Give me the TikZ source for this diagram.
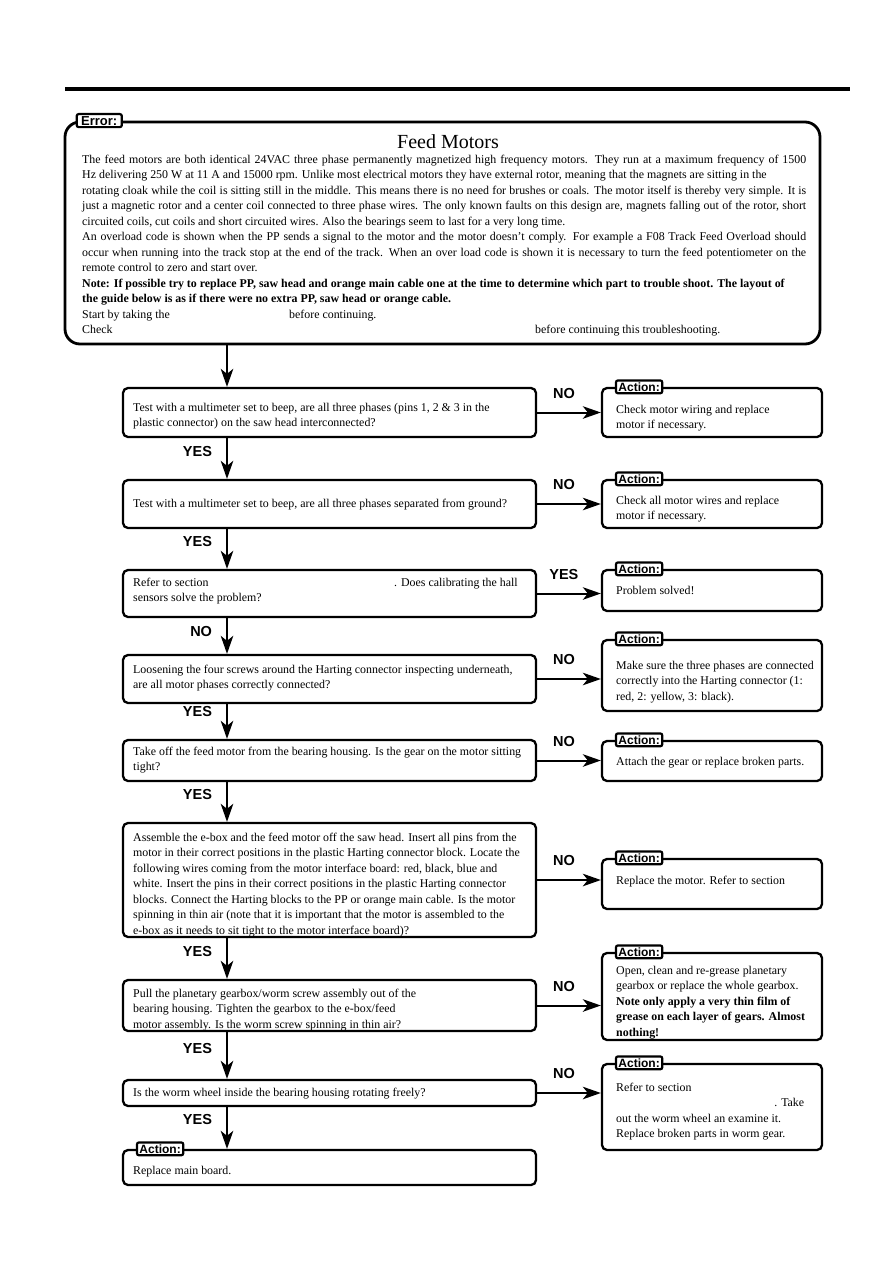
\documentclass[tikz,border=0pt]{standalone}
\usepackage{fontspec}
\setmainfont{Liberation Serif}
\setsansfont{Liberation Sans}
\usetikzlibrary{arrows.meta,calc}
\tikzset{
  qbox/.style={draw, line width=2.3pt, rounded corners=5pt, inner sep=0pt},
  txt/.style={inner sep=0pt, align=left, anchor=base west, font=\fontsize{11.9}{15.5}\selectfont},
  tagbox/.style={draw, fill=white, line width=2.2pt, rounded corners=2pt, inner xsep=2.5pt, inner ysep=2pt, anchor=west, font=\sffamily\bfseries\fontsize{12}{12}\selectfont},
  lab/.style={inner sep=0pt, font=\sffamily\bfseries\fontsize{14.5}{15}\selectfont},
  arr/.style={line width=2pt, -{Stealth[length=18pt,width=12.5pt,inset=5pt]}}
}
\begin{document}
\begin{tikzpicture}[x=1pt,y=-1pt]
\useasboundingbox (0,0) rectangle (893,1263);
\draw[line width=3.5pt] (65,89) -- (850,89);
\coordinate (ax) at (227,0);

% error box
\node[qbox, line width=2.8pt, rounded corners=15pt, minimum width=755pt, minimum height=222pt] (err) at (442.5,233) {};
\node[tagbox, inner xsep=4.5pt, font=\sffamily\bfseries\fontsize{13}{13}\selectfont] (errtag) at ([xshift=12pt]err.north west) {Error:};
\node[inner sep=0pt, anchor=base, font=\fontsize{20}{22}\selectfont] (title) at (448,148) {Feed Motors};
\node[txt] (intro) at (82,333.5) {%
\makebox[724pt][s]{The feed motors are both identical 24VAC three phase permanently magnetized high frequency motors. They run at a maximum frequency of 1500}\\
Hz delivering 250 W at 11 A and 15000 rpm. Unlike most electrical motors they have external rotor, meaning that the magnets are sitting in the\\
\makebox[724pt][s]{rotating cloak while the coil is sitting still in the middle. This means there is no need for brushes or coals. The motor itself is thereby very simple. It is}\\
\makebox[724pt][s]{just a magnetic rotor and a center coil connected to three phase wires. The only known faults on this design are, magnets falling out of the rotor, short}\\
circuited coils, cut coils and short circuited wires. Also the bearings seem to last for a very long time.\\
\makebox[724pt][s]{An overload code is shown when the PP sends a signal to the motor and the motor doesn't comply. For example a F08 Track Feed Overload should}\\
\makebox[724pt][s]{occur when running into the track stop at the end of the track. When an over load code is shown it is necessary to turn the feed potentiometer on the}\\
remote control to zero and start over.\\
\textbf{Note: If possible try to replace PP, saw head and orange main cable one at the time to determine which part to trouble shoot. The layout of}\\
\textbf{the guide below is as if there were no extra PP, saw head or orange cable.}\\
\makebox[207pt][l]{Start by taking the}before continuing.\\
\makebox[453pt][l]{Check}before continuing this troubleshooting.};

% question boxes
\node[qbox, minimum width=413pt, minimum height=49pt] (q1) at (329.5,412.5) {};
\node[qbox, minimum width=413pt, minimum height=48pt] (q2) at (329.5,504) {};
\node[qbox, minimum width=413pt, minimum height=47pt] (q3) at (329.5,593.5) {};
\node[qbox, minimum width=413pt, minimum height=48pt] (q4) at (329.5,679) {};
\node[qbox, minimum width=413pt, minimum height=41pt] (q5) at (329.5,760.5) {};
\node[qbox, minimum width=413pt, minimum height=114pt] (q6) at (329.5,880) {};
\node[qbox, minimum width=413pt, minimum height=51pt] (q7) at (329.5,1005.5) {};
\node[qbox, minimum width=413pt, minimum height=26pt] (q8) at (329.5,1093) {};
\node[qbox, minimum width=413pt, minimum height=35pt] (q9) at (329.5,1167.5) {};

\node[txt] (q1t) at (133,426.5) {Test with a multimeter set to beep, are all three phases (pins 1, 2 \& 3 in the\\plastic connector) on the saw head interconnected?};
\node[txt] (q2t) at (133,507) {Test with a multimeter set to beep, are all three phases separated from ground?};
\node[txt] (q3t) at (133,601.5) {\makebox[261pt][l]{Refer to section}. Does calibrating the hall\\sensors solve the problem?};
\node[txt] (q4t) at (133,688.5) {Loosening the four screws around the Harting connector inspecting underneath,\\are all motor phases correctly connected?};
\node[txt] (q5t) at (133,770.5) {Take off the feed motor from the bearing housing. Is the gear on the motor sitting\\tight?};
\node[txt] (q6t) at (133,934) {Assemble the e-box and the feed motor off the saw head. Insert all pins from the\\motor in their correct positions in the plastic Harting connector block. Locate the\\following wires coming from the motor interface board: red, black, blue and\\white. Insert the pins in their correct positions in the plastic Harting connector\\blocks. Connect the Harting blocks to the PP or orange main cable. Is the motor\\spinning in thin air (note that it is important that the motor is assembled to the\\e-box as it needs to sit tight to the motor interface board)?};
\node[txt] (q7t) at (133,1028) {Pull the planetary gearbox/worm screw assembly out of the\\bearing housing. Tighten the gearbox to the e-box/feed\\motor assembly. Is the worm screw spinning in thin air?};
\node[txt] (q8t) at (133,1096) {Is the worm wheel inside the bearing housing rotating freely?};
\node[tagbox] (q9tag) at ([xshift=14pt]q9.north west) {Action:};
\node[txt] (q9t) at (133,1174) {Replace main board.};

% action boxes
\node[qbox, minimum width=220pt, minimum height=49pt] (r1) at (712,412.5) {};
\node[qbox, minimum width=220pt, minimum height=48pt] (r2) at (712,504) {};
\node[qbox, minimum width=220pt, minimum height=41pt] (r3) at (712,590.5) {};
\node[qbox, minimum width=220pt, minimum height=71pt] (r4) at (712,675.5) {};
\node[qbox, minimum width=220pt, minimum height=40pt] (r5) at (712,761) {};
\node[qbox, minimum width=220pt, minimum height=50pt] (r6) at (712,884) {};
\node[qbox, minimum width=220pt, minimum height=87pt] (r7) at (712,996.5) {};
\node[qbox, minimum width=220pt, minimum height=86pt] (r8) at (712,1107) {};

\foreach \r in {r1,r2,r3,r4,r5,r6,r7,r8}{
  \node[tagbox] (\r tag) at ([xshift=14pt]\r.north west) {Action:};
}

\node[txt] (r1t) at (616,428.5) {Check motor wiring and replace\\motor if necessary.};
\node[txt] (r2t) at (616,519.5) {Check all motor wires and replace\\motor if necessary.};
\node[txt] (r3t) at (616,594) {Problem solved!};
\node[txt] (r4t) at (616,700) {Make sure the three phases are connected\\correctly into the Harting connector (1:\\red, 2: yellow, 3: black).};
\node[txt] (r5t) at (616,765) {Attach the gear or replace broken parts.};
\node[txt] (r6t) at (616,884) {Replace the motor. Refer to section};
\node[txt] (r7t) at (616,1036) {Open, clean and re-grease planetary\\gearbox or replace the whole gearbox.\\\textbf{Note only apply a very thin film of}\\\textbf{grease on each layer of gears. Almost}\\\textbf{nothing!}};
\node[txt] (r8t) at (616,1137.5) {Refer to section\\\makebox[188pt][r]{. Take}\\out the worm wheel an examine it.\\Replace broken parts in worm gear.};

% vertical arrows
\draw[arr] (err.south -| ax) -- (q1.north -| ax);
\draw[arr] (q1.south -| ax) -- node[lab, pos=0.32, left=14pt] (v1) {YES} (q2.north -| ax);
\draw[arr] (q2.south -| ax) -- node[lab, pos=0.32, left=14pt] (v2) {YES} (q3.north -| ax);
\draw[arr] (q3.south -| ax) -- node[lab, pos=0.36, left=14pt] (v3) {NO} (q4.north -| ax);
\draw[arr] (q4.south -| ax) -- node[lab, pos=0.2, left=14pt] (v4) {YES} (q5.north -| ax);
\draw[arr] (q5.south -| ax) -- node[lab, pos=0.3, left=14pt] (v5) {YES} (q6.north -| ax);
\draw[arr] (q6.south -| ax) -- node[lab, pos=0.32, left=14pt] (v6) {YES} (q7.north -| ax);
\draw[arr] (q7.south -| ax) -- node[lab, pos=0.36, left=14pt] (v7) {YES} (q8.north -| ax);
\draw[arr] (q8.south -| ax) -- node[lab, pos=0.3, left=14pt] (v8) {YES} (q9.north -| ax);

% horizontal arrows
\foreach \i/\l in {1/NO,2/NO,3/YES,4/NO,5/NO,6/NO,7/NO,8/NO}{
  \draw[arr] (q\i.east) -- node[lab, pos=0.42, above=13pt] (h\i) {\l} (q\i.east -| r\i.west);
}
\end{tikzpicture}
\end{document}
